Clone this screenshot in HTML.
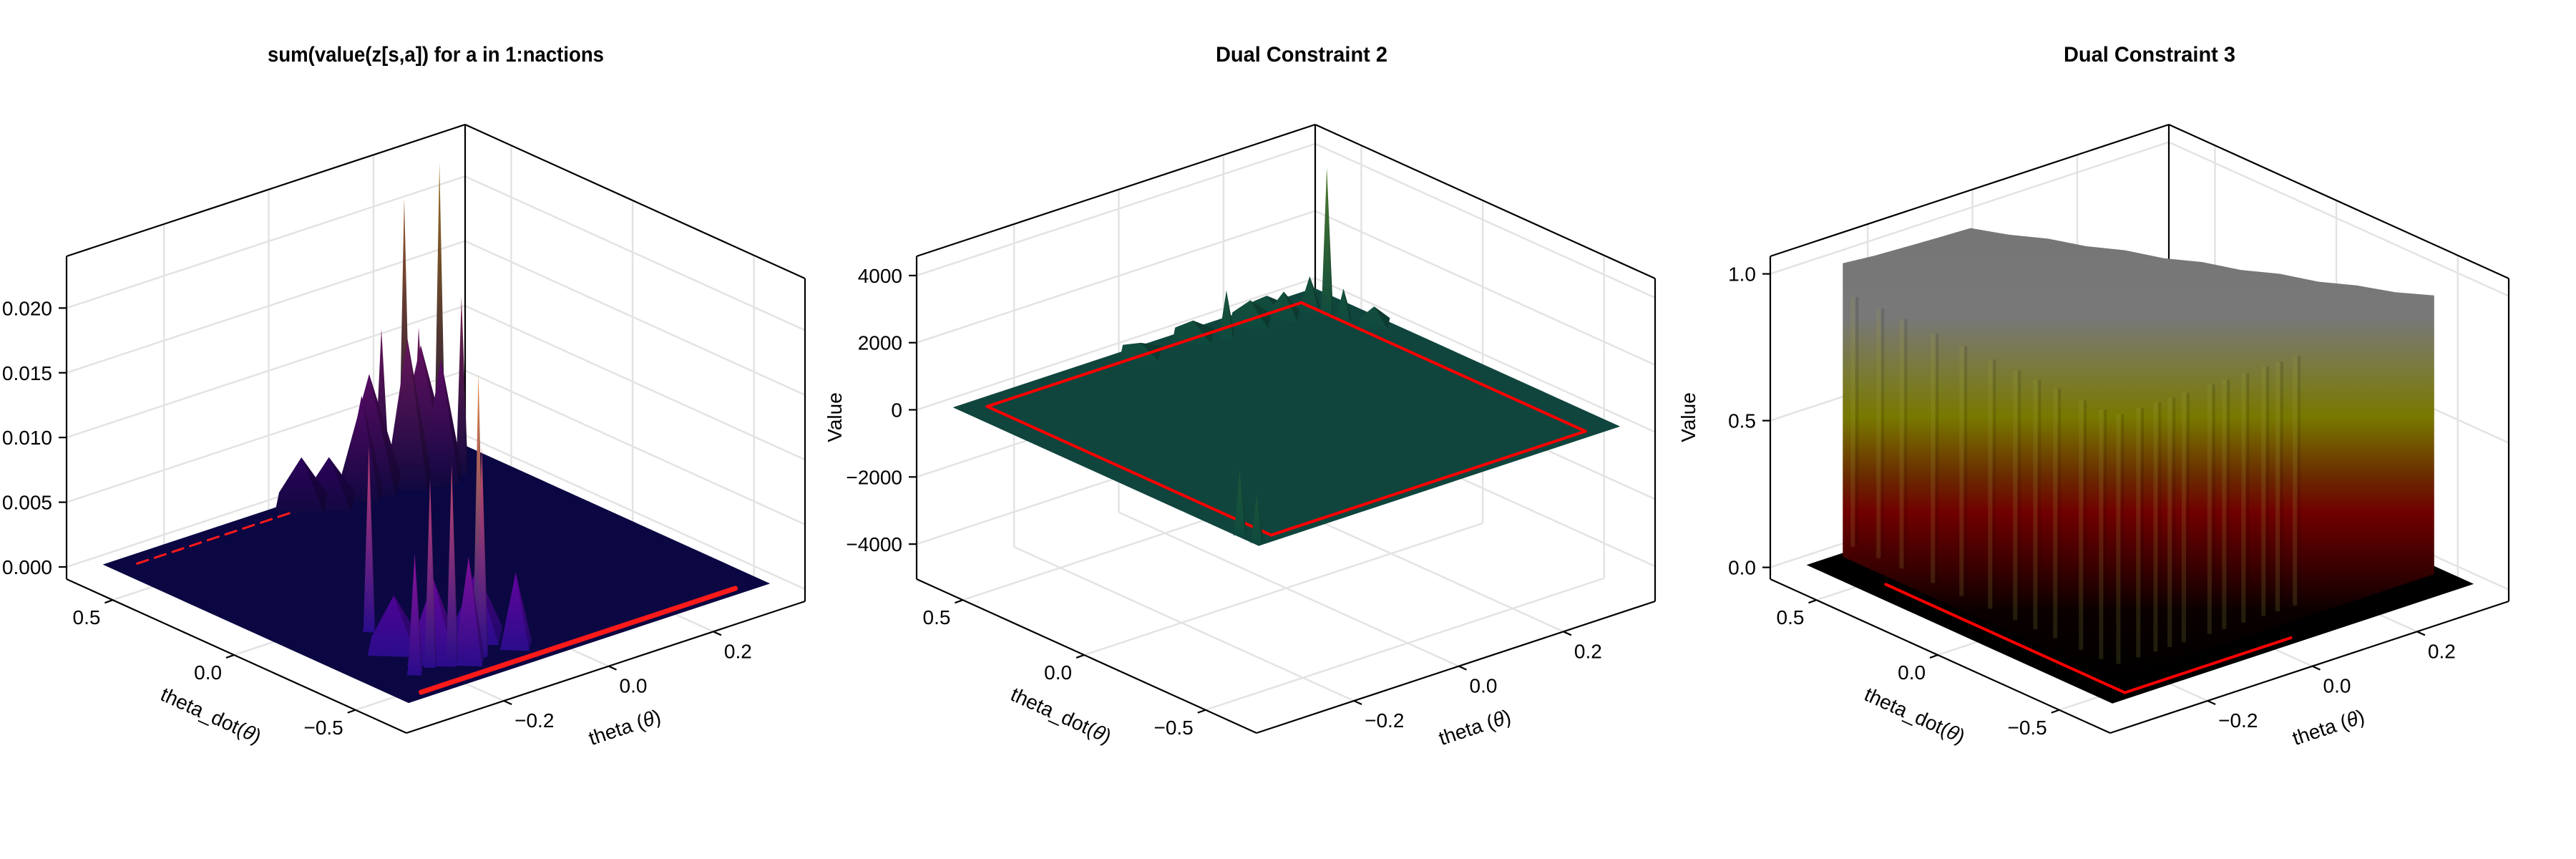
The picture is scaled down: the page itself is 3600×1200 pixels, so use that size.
<!DOCTYPE html>
<html><head><meta charset="utf-8">
<style>
html,body{margin:0;padding:0;background:#fff}
svg{display:block}
text{font-family:"Liberation Sans",sans-serif}
</style></head>
<body>
<svg id="fig" width="3600" height="1200" viewBox="0 0 3600 1200" xmlns="http://www.w3.org/2000/svg">
<defs id="defs"></defs>
<rect width="3600" height="1200" fill="#ffffff"/>
<text x="609" y="86" font-size="30" font-weight="bold" text-anchor="middle" textLength="470" lengthAdjust="spacingAndGlyphs">sum(value(z[s,a]) for a in 1:nactions</text>
<text x="1819" y="86" font-size="30" font-weight="bold" text-anchor="middle" textLength="240" lengthAdjust="spacingAndGlyphs">Dual Constraint 2</text>
<text x="3004" y="86" font-size="30" font-weight="bold" text-anchor="middle" textLength="240" lengthAdjust="spacingAndGlyphs">Dual Constraint 3</text>
</svg>
<script>
// ---------------- data ----------------
const thetaRange = [-0.386, 0.375];
const thetaDotRange = [-0.71, 0.69];
const thetaTicks = [-0.2, 0, 0.2];
const thetaTickLabels = ['\u22120.2', '0.0', '0.2'];
const thetaDotTicks = [-0.5, 0, 0.5];
const thetaDotTickLabels = ['\u22120.5', '0.0', '0.5'];
const surfThetaRange = [-0.34, 0.35];
const surfThetaDotRange = [-0.62, 0.64];
const redThetaRange = [-0.3, 0.3];
const redThetaDotRange = [-0.585, 0.585];

const z1Range = [-0.00094, 0.0240];
const z1Ticks = [0, 0.005, 0.01, 0.015, 0.02];
const z1TickLabels = ['0.000', '0.005', '0.010', '0.015', '0.020'];
const z2Range = [-5043, 4574];
const z2Ticks = [-4000, -2000, 0, 2000, 4000];
const z2TickLabels = ['\u22124000', '\u22122000', '0', '2000', '4000'];
const z3Range = [-0.04, 1.06];
const z3Ticks = [0, 0.5, 1.0];
const z3TickLabels = ['0.0', '0.5', '1.0'];

// panel 1 spikes
const p1SpikeThetaDot = [0.60, 0.539, 0.64, 0.575, 0.50, 0.56, 0.58, 0.55, 0.52, 0.60, 0.56, 0.62, -0.167, -0.46, -0.48, -0.45, -0.494, -0.47, -0.50, -0.42, -0.38, -0.50, -0.30];
const p1SpikeTheta    = [0.217, 0.256, 0.192, 0.233, 0.28, 0.117, 0.064, 0.20, 0.25, 0.15, 0.23, 0.03, -0.206, -0.225, -0.193, -0.128, -0.142, -0.259, -0.08, -0.20, -0.10, -0.17, -0.22];
const p1SpikeValue    = [0.0212, 0.0239, 0.0111, 0.0112, 0.0136, 0.0076, 0.0034, 0.0110, 0.0090, 0.0085, 0.0100, 0.0035, 0.0142, 0.0144, 0.0153, 0.0212, 0.0161, 0.0092, 0.0056, 0.0060, 0.0050, 0.0080, 0.0040];
const p1SpikeWidth    = [0.012, 0.012, 0.015, 0.015, 0.012, 0.04, 0.05, 0.045, 0.04, 0.06, 0.06, 0.05, 0.012, 0.012, 0.012, 0.012, 0.012, 0.015, 0.03, 0.05, 0.05, 0.03, 0.05];

// panel 2 spikes
const p2SpikeThetaDot = [0.474, 0.536, 0.427, 0.54, 0.60, 0.60, 0.58, 0.62, 0.55, 0.35, -0.52, -0.59];
const p2SpikeTheta    = [0.297, 0.134, 0.307, 0.295, 0.0, 0.10, 0.20, 0.25, 0.25, 0.33, -0.33, -0.33];
const p2SpikeValue    = [4400, 1380, 900, 960, 300, 450, 600, 350, 700, 500, 1870, 1380];
const p2SpikeWidth    = [0.012, 0.015, 0.015, 0.02, 0.04, 0.04, 0.04, 0.03, 0.03, 0.03, 0.012, 0.012];

// panel 3 block top contour
const blkThetaDot = [0.62, 0.62, 0.62, 0.62, 0.62, 0.527, 0.433, 0.34, 0.247, 0.153, 0.06, -0.033, -0.127, -0.22, -0.313, -0.407, -0.5];
const blkTheta    = [-0.28, -0.22, -0.16, -0.10, -0.036, -0.0055, 0.025, 0.0555, 0.086, 0.1165, 0.147, 0.1775, 0.208, 0.2385, 0.269, 0.2995, 0.33];
const blkValue    = [1.0, 0.99, 0.985, 0.98, 0.976, 0.970, 0.974, 0.965, 0.968, 0.958, 0.962, 0.952, 0.956, 0.946, 0.950, 0.944, 0.95];
const blkBaseThetaDot = [-0.5, -0.5, 0.62];
const blkBaseTheta = [0.33, -0.28, -0.28];
const stripeThetaDot = [0.579, 0.473, 0.378, 0.249, 0.131, 0.013, -0.09, -0.173, -0.255, -0.361, -0.444];
const stripeTheta = [-0.273, -0.235, -0.202, -0.175, -0.148, -0.099, -0.071, -0.034, 0.004, 0.031, 0.064];
const red3ThetaDot = [0.40, -0.585, -0.585];
const red3Theta = [-0.3, -0.3, 0.017];

// ---------------- rendering ----------------
const NS = 'http://www.w3.org/2000/svg';
const svg = document.getElementById('fig');
const defs = document.getElementById('defs');
const Lb = [93, 809], Fc = [568, 1024], Rb = [1125, 840], H = 451;
let gid = 0;

function add(tag, attrs, parent) {
  const e = document.createElementNS(NS, tag);
  for (const k in attrs) e.setAttribute(k, attrs[k]);
  (parent || svg).appendChild(e);
  return e;
}
function proj(p, td, th, z) {
  const s = (thetaDotRange[1] - td) / (thetaDotRange[1] - thetaDotRange[0]);
  const r = (th - thetaRange[0]) / (thetaRange[1] - thetaRange[0]);
  const f = (z - p.zr[0]) / (p.zr[1] - p.zr[0]);
  return [p.ox + Lb[0] + s * (Fc[0] - Lb[0]) + r * (Rb[0] - Fc[0]),
          Lb[1] + s * (Fc[1] - Lb[1]) + r * (Rb[1] - Fc[1]) - f * H];
}
function pts(a) { return a.map(q => q[0].toFixed(1) + ',' + q[1].toFixed(1)).join(' '); }
function hex(h) { return [parseInt(h.slice(1, 3), 16), parseInt(h.slice(3, 5), 16), parseInt(h.slice(5, 7), 16)]; }
function mix(a, b, t, k) { const A = hex(a), B = hex(b); k = k || 1; return 'rgb(' + [0, 1, 2].map(i => Math.round((A[i] + (B[i] - A[i]) * t) * k)).join(',') + ')'; }
function ramp(stops, t, k) { t = Math.max(0, Math.min(1, t)); const n = stops.length - 1; const i = Math.min(n - 1, Math.floor(t * n)); return mix(stops[i], stops[i + 1], t * n - i, k); }
const plasma = ['#1a0b62', '#5c01a6', '#9c179e', '#cc4778', '#ed7953', '#fdb42f'];
const greens = ['#0f4a3e', '#1f5a38', '#4f7a2a'];

function gridAndFrame(p, name, zTicks, zLabels, showValue) {
  const g = add('g', {});
  
  
  const tdM = thetaDotRange[1], tdm = thetaDotRange[0], thm = thetaRange[0], thM = thetaRange[1], z0 = p.zr[0], z1 = p.zr[1];
  const gl = (a, b, n) => { const l = add('line', {x1: a[0], y1: a[1], x2: b[0], y2: b[1], stroke: '#e3e3e3', 'stroke-width': 2.5}, g);
    
     };
  zTicks.forEach(z => { gl(proj(p, tdM, thm, z), proj(p, tdM, thM, z), 'z-gridline'); gl(proj(p, tdM, thM, z), proj(p, tdm, thM, z), 'z-gridline'); });
  thetaTicks.forEach(t => { gl(proj(p, tdM, t, z0), proj(p, tdM, t, z1), 'theta-gridline'); gl(proj(p, tdM, t, z0), proj(p, tdm, t, z0), 'theta-gridline'); });
  thetaDotTicks.forEach(t => { gl(proj(p, t, thM, z0), proj(p, t, thM, z1), 'theta-dot-gridline'); gl(proj(p, t, thm, z0), proj(p, t, thM, z0), 'theta-dot-gridline'); });
  const Lt = proj(p, tdM, thm, z1), Lbo = proj(p, tdM, thm, z0), Bt = proj(p, tdM, thM, z1), Bb = proj(p, tdM, thM, z0),
        Rt = proj(p, tdm, thM, z1), Rbo = proj(p, tdm, thM, z0), F = proj(p, tdm, thm, z0);
  const fl = (a, b, n) => { const l = add('line', {x1: a[0], y1: a[1], x2: b[0], y2: b[1], stroke: '#000', 'stroke-width': 2.2}, g);
    
     };
  fl(Lt, Lbo, 'z-axis-line'); fl(Lt, Bt, 'frame-edge'); fl(Bt, Rt, 'frame-edge'); fl(Rt, Rbo, 'frame-edge');
  fl(Bt, Bb, 'frame-edge'); fl(Lbo, F, 'theta-dot-axis-line'); fl(F, Rbo, 'theta-axis-line');
  zTicks.forEach((z, i) => {
    const q = proj(p, tdM, thm, z);
    fl([q[0] - 11, q[1]], q, 'z-tick');
    const t = add('text', {x: q[0] - 20, y: q[1] + 10, 'font-size': 28, 'text-anchor': 'end', fill: '#000'}, g);
    t.textContent = zLabels[i];
    
    
  });
  thetaDotTicks.forEach((v, i) => {
    const q = proj(p, v, thm, z0);
    fl(q, [q[0] - 11, q[1] + 4], 'theta-dot-tick');
    const t = add('text', {x: q[0] - 17, y: q[1] + 34, 'font-size': 28, 'text-anchor': 'end', fill: '#000'}, g);
    t.textContent = thetaDotTickLabels[i];
    
    
  });
  thetaTicks.forEach((v, i) => {
    const q = proj(p, tdm, v, z0);
    fl(q, [q[0] + 11, q[1] + 5], 'theta-tick');
    const t = add('text', {x: q[0] + 15, y: q[1] + 37, 'font-size': 28, 'text-anchor': 'start', fill: '#000'}, g);
    t.textContent = thetaTickLabels[i];
    
    
  });
  const xl = add('text', {'font-size': 28, 'text-anchor': 'middle', transform: 'translate(' + (p.ox + 291) + ',1008) rotate(24.4)'}, g);
  xl.innerHTML = 'theta_dot(<tspan font-style="italic">θ</tspan>)';
  
  
  const yl = add('text', {'font-size': 28, 'text-anchor': 'middle', transform: 'translate(' + (p.ox + 876) + ',1025) rotate(-18.3)'}, g);
  yl.innerHTML = 'theta (<tspan font-style="italic">θ</tspan>)';
  
  
  if (showValue) {
    const vl = add('text', {'font-size': 28, 'text-anchor': 'middle', transform: 'translate(' + (p.ox - 12) + ',583) rotate(-90)'}, g);
    vl.textContent = 'Value';
    
    
  }
}

function plane(p, fill, name) {
  const c = [proj(p, surfThetaDotRange[1], surfThetaRange[0], 0), proj(p, surfThetaDotRange[0], surfThetaRange[0], 0),
             proj(p, surfThetaDotRange[0], surfThetaRange[1], 0), proj(p, surfThetaDotRange[1], surfThetaRange[1], 0)];
  const e = add('polygon', {points: pts(c), fill: fill});
  
  
}

function spike(p, td, th, v, w, baseCol, topCol, name) {
  const wd = w * (thetaDotRange[1] - thetaDotRange[0]) / (thetaRange[1] - thetaRange[0]);
  const a = proj(p, td, th - w, 0), b = proj(p, td - wd, th, 0), c = proj(p, td, th + w, 0), d = proj(p, td + wd, th, 0), ap = proj(p, td, th, v);
  const id = 'sg' + (gid++);
  const lg = add('linearGradient', {id: id, gradientUnits: 'userSpaceOnUse', x1: ap[0], x2: ap[0], y1: b[1], y2: ap[1]}, defs);
  add('stop', {offset: 0, 'stop-color': baseCol}, lg);
  add('stop', {offset: 1, 'stop-color': topCol}, lg);
  const e = add('polygon', {points: pts([ap, d, a, b, c]), fill: 'url(#' + id + ')'});
  
  
  const sh = add('polygon', {points: pts([ap, b, c]), fill: '#000', 'fill-opacity': 0.22});
  
  
}
function seg(p, td1, th1, td2, th2, col, w, dash, name) {
  const a = proj(p, td1, th1, 0), b = proj(p, td2, th2, 0);
  const e = add('line', {x1: a[0], y1: a[1], x2: b[0], y2: b[1], stroke: col, 'stroke-width': w, 'stroke-linecap': 'round'});
  if (dash) e.setAttribute('stroke-dasharray', dash);
  
  
}
function order(tds, ths, p) {
  return tds.map((_, i) => i).sort((i, j) => proj(p, tds[i], ths[i], 0)[1] - proj(p, tds[j], ths[j], 0)[1]);
}

// ---- panel 1 ----
const P1 = {ox: 0, zr: z1Range};
gridAndFrame(P1, 'panel-1', z1Ticks, z1TickLabels, false);
plane(P1, '#0b0742', 'panel-1-surface-plane');
seg(P1, redThetaDotRange[1], redThetaRange[0], redThetaDotRange[1], redThetaRange[1], '#ff1a1a', 3, '16 10', 'panel-1-red-back-edge');
order(p1SpikeThetaDot, p1SpikeTheta, P1).forEach(i => {
  const k = p1SpikeThetaDot[i] > 0 ? 0.62 : 0.95;
  spike(P1, p1SpikeThetaDot[i], p1SpikeTheta[i], p1SpikeValue[i], p1SpikeWidth[i],
        p1SpikeThetaDot[i] > 0 ? '#120840' : '#2a0c8a', ramp(plasma, p1SpikeValue[i] / 0.024, k), 'panel-1-surface-peak');
});
seg(P1, redThetaDotRange[0], redThetaRange[0], redThetaDotRange[0], redThetaRange[1], '#ff1a1a', 7, null, 'panel-1-red-front-edge');

// ---- panel 2 ----
const P2 = {ox: 1188, zr: z2Range};
gridAndFrame(P2, 'panel-2', z2Ticks, z2TickLabels, true);
plane(P2, '#10453e', 'panel-2-surface-plane');
const o2 = order(p2SpikeThetaDot, p2SpikeTheta, P2);
const drawP2 = i => spike(P2, p2SpikeThetaDot[i], p2SpikeTheta[i], p2SpikeValue[i], p2SpikeWidth[i], '#0f4a3e', ramp(greens, p2SpikeValue[i] / 4400), 'panel-2-surface-peak');
o2.filter(i => p2SpikeThetaDot[i] > redThetaDotRange[0] + 0.1).forEach(drawP2);
seg(P2, redThetaDotRange[1], redThetaRange[0], redThetaDotRange[1], redThetaRange[1], '#ff0000', 4, null, 'panel-2-red-edge');
seg(P2, redThetaDotRange[1], redThetaRange[1], redThetaDotRange[0], redThetaRange[1], '#ff0000', 4, null, 'panel-2-red-edge');
seg(P2, redThetaDotRange[0], redThetaRange[1], redThetaDotRange[0], redThetaRange[0], '#ff0000', 4, null, 'panel-2-red-edge');
seg(P2, redThetaDotRange[0], redThetaRange[0], redThetaDotRange[1], redThetaRange[0], '#ff0000', 4, null, 'panel-2-red-edge');
o2.filter(i => p2SpikeThetaDot[i] <= redThetaDotRange[0] + 0.1).forEach(drawP2);

// ---- panel 3 ----
const P3 = {ox: 2381, zr: z3Range};
gridAndFrame(P3, 'panel-3', z3Ticks, z3TickLabels, true);
plane(P3, '#000000', 'panel-3-surface-floor');
(function () {
  const top = blkThetaDot.map((td, i) => proj(P3, td, blkTheta[i], blkValue[i]));
  const base = blkBaseThetaDot.map((td, i) => proj(P3, td, blkBaseTheta[i], 0));
  const y0 = Math.min(...top.map(q => q[1])), y1 = Math.max(...base.map(q => q[1]));
  const id = 'blkgrad';
  const lg = add('linearGradient', {id: id, gradientUnits: 'userSpaceOnUse', x1: 0, x2: 0, y1: y0, y2: y1}, defs);
  [[0, '#767676'], [0.2, '#787878'], [0.33, '#7a7a30'], [0.42, '#787800'], [0.55, '#6a2a00'], [0.63, '#700000'], [0.75, '#3a0000'], [0.85, '#0a0000'], [1, '#000000']]
    .forEach(s => add('stop', {offset: s[0], 'stop-color': s[1]}, lg));
  const e = add('polygon', {points: pts(top.concat(base)), fill: 'url(#' + id + ')'});
  
  
  const ridge = (a, b) => {
    const l = add('line', {x1: a[0], y1: a[1], x2: b[0], y2: b[1], stroke: '#a0a040', 'stroke-width': 6, 'stroke-opacity': 0.18});
    
    
    const d = add('line', {x1: a[0] + 6, y1: a[1], x2: b[0] + 6, y2: b[1], stroke: '#000', 'stroke-width': 4, 'stroke-opacity': 0.12});
    
    
  };
  stripeThetaDot.forEach(td => ridge(proj(P3, td, blkBaseTheta[1], 0.05), proj(P3, td, blkBaseTheta[1], 0.9)));
  stripeTheta.forEach(th => ridge(proj(P3, blkBaseThetaDot[0], th, 0.05), proj(P3, blkBaseThetaDot[0], th, 0.9)));
})();
for (let i = 0; i < red3ThetaDot.length - 1; i++) {
  seg(P3, red3ThetaDot[i], red3Theta[i], red3ThetaDot[i + 1], red3Theta[i + 1], '#ff0000', 4, null, 'panel-3-red-edge');
}
</script>
</body></html>
